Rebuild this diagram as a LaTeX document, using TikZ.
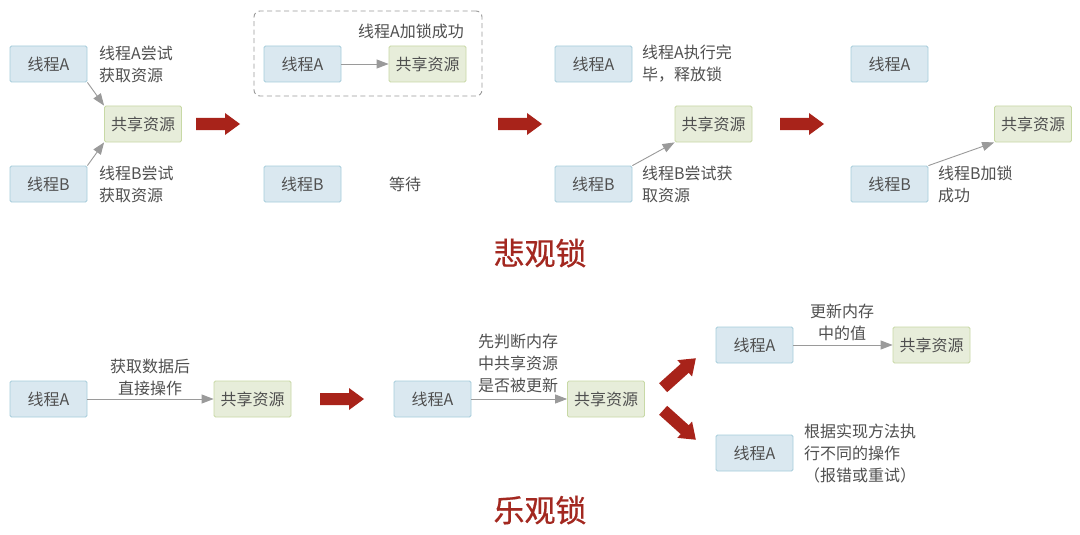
\documentclass[tikz,border=0pt]{standalone}
\usepackage{fontspec}
\setmainfont{Noto Sans CJK SC}
\newfontfamily\titlefont[FakeBold=0.6]{Noto Sans CJK SC}
\usetikzlibrary{arrows.meta}
\definecolor{thrfill}{HTML}{DAE8F0}
\definecolor{thrdraw}{HTML}{A6CCDB}
\definecolor{resfill}{HTML}{E7EDDA}
\definecolor{resdraw}{HTML}{C8D9A6}
\definecolor{txtgray}{HTML}{505050}
\definecolor{linegray}{HTML}{9A9A9A}
\definecolor{arrowred}{HTML}{A8231A}
\definecolor{titlered}{HTML}{A32820}
\tikzset{
  base/.style={font=\fontsize{16}{22}\selectfont, text=txtgray},
  thr/.style={base, draw=thrdraw, fill=thrfill, line width=0.8pt, rounded corners=1.5pt,
    minimum width=77pt, minimum height=36pt, inner sep=0pt},
  res/.style={base, draw=resdraw, fill=resfill, line width=0.8pt, rounded corners=1.5pt,
    minimum width=77pt, minimum height=36pt, inner sep=0pt},
  lbl/.style={base, inner sep=0pt, align=left},
  lblc/.style={base, inner sep=0pt, align=center},
  conn/.style={draw=linegray, line width=0.9pt, -{Triangle[length=12pt,width=9pt]}},
  title/.style={font=\titlefont\fontsize{31}{36}\selectfont, text=titlered, inner sep=0pt},
  bigarrow/.pic={\fill[arrowred] (-22,-6) -- (7,-6) -- (7,-11) -- (22,0) -- (7,11) -- (7,6) -- (-22,6) -- cycle;}
}
\begin{document}
\begin{tikzpicture}[x=1pt,y=-1pt]
\useasboundingbox[fill=white] (0,0) rectangle (1080,535);

% ---------- Pessimistic lock ----------
% panel 1
\node[thr] (a1) at (48.5,64) {线程A};
\node[thr] (b1) at (48.5,184) {线程B};
\node[res] (r1) at (143,124) {共享资源};
\node[lbl, anchor=west] (la1) at (99,64) {线程A尝试\\获取资源};
\node[lbl, anchor=west] (lb1) at (99,184) {线程B尝试\\获取资源};
\draw[conn] (a1.south east) -- (r1.north west);
\draw[conn] (b1.north east) -- (r1.south west);

\pic at (218,124) {bigarrow};

% panel 2
\node[draw=linegray, dash pattern=on 5pt off 3.5pt, line width=0.9pt, rounded corners=6pt,
  minimum width=228pt, minimum height=85pt, inner sep=0pt] (box2) at (368,53.5) {};
\node[thr] (a2) at (302.5,64) {线程A};
\node[res] (r2) at (427.5,64) {共享资源};
\node[lblc] (la2) at (411,31) {线程A加锁成功};
\draw[conn] (a2) -- (r2);
\node[thr] (b2) at (302.5,184) {线程B};
\node[lblc] (lb2) at (405,184) {等待};

\pic at (520,124) {bigarrow};

% panel 3
\node[thr] (a3) at (593.5,64) {线程A};
\node[lbl, anchor=west] (la3) at (642,64) {线程A执行完\\毕，释放锁};
\node[res] (r3) at (713.5,124) {共享资源};
\node[thr] (b3) at (593.5,184) {线程B};
\node[lbl, anchor=west] (lb3) at (642,184) {线程B尝试获\\取资源};
\draw[conn] (b3.north east) -- (r3.south west);

\pic at (802,124) {bigarrow};

% panel 4
\node[thr] (a4) at (889.5,64) {线程A};
\node[res] (r4) at (1033,124) {共享资源};
\node[thr] (b4) at (889.5,184) {线程B};
\node[lbl, anchor=west] (lb4) at (938,184) {线程B加锁\\成功};
\draw[conn] (b4.north east) -- (r4.south west);

\node[title] (t1) at (540,253) {悲观锁};

% ---------- Optimistic lock ----------
\node[thr] (oa1) at (48.5,399) {线程A};
\node[res] (or1) at (252.5,399) {共享资源};
\node[lblc] (ol1) at (150,377) {获取数据后\\直接操作};
\draw[conn] (oa1) -- (or1);

\pic at (342,399) {bigarrow};

\node[thr] (oa2) at (432.5,399) {线程A};
\node[res] (or2) at (606,399) {共享资源};
\node[lblc] (ol2) at (518,363) {先判断内存\\中共享资源\\是否被更新};
\draw[conn] (oa2) -- (or2);

\pic[rotate=42] at (679.5,373) {bigarrow};
\pic[rotate=-42] at (679.5,425) {bigarrow};

\node[thr] (oa3) at (754.5,345) {线程A};
\node[res] (or3) at (931.5,345) {共享资源};
\node[lblc] (ol3) at (842,322) {更新内存\\中的值};
\draw[conn] (oa3) -- (or3);

\node[thr] (oa4) at (754.5,453) {线程A};
\node[lbl, anchor=west] (ol4) at (804,453) {根据实现方法执\\行不同的操作\\（报错或重试）};

\node[title] (t2) at (540,510) {乐观锁};
\end{tikzpicture}
\end{document}
